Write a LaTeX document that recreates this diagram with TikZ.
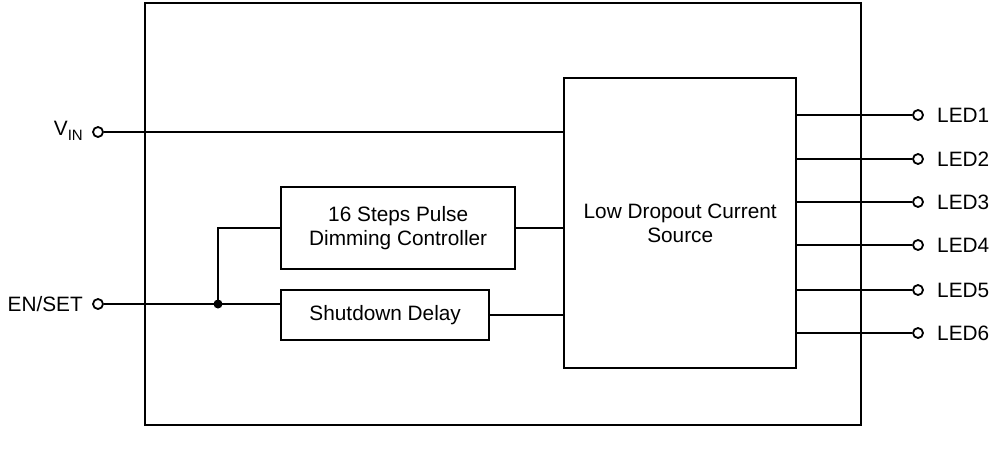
\documentclass[tikz,border=0pt]{standalone}
\usepackage{fontspec}
\setmainfont{Liberation Sans}
\begin{document}
\begin{tikzpicture}[x=1pt,y=-1pt,
  blk/.style={draw,line width=2.4pt,inner sep=0pt,align=center,font=\fontsize{20.8}{24.5}\selectfont},
  wire/.style={line width=1.6pt},
  pinc/.style={circle,draw,line width=1.8pt,fill=white,inner sep=0pt,minimum size=10pt},
  lbl/.style={inner sep=0pt,font=\fontsize{20.8}{24.5}\selectfont}]
\useasboundingbox (0,0) rectangle (992,450);
% outer package box
\draw[line width=2.8pt] (145,3) rectangle (861,425);
% blocks
\node[blk,anchor=north west,minimum width=232pt,minimum height=290pt] (ldo) at (563,77) {Low Dropout Current\\Source};
\node[blk,anchor=north west,minimum width=234pt,minimum height=82pt] (dim) at (280,186) {16 Steps Pulse\\Dimming Controller};
\node[blk,anchor=north west,minimum width=208pt,minimum height=50pt] (sd) at (280,289) {Shutdown Delay};
% pins
\node[pinc] (vinp) at (98,132) {};
\node[pinc] (enp) at (98,304) {};
\node[lbl,anchor=east] (vinl) at (83,131) {V\raisebox{-0.4ex}{\fontsize{15}{15}\selectfont IN}};
\node[lbl,anchor=east] (enl) at (83,304) {EN/SET};
\coordinate (j) at (218,304);
% wires
\draw[wire] (vinp) -- (vinp -| ldo.west);
\draw[wire] (enp) -- (enp -| sd.west);
\fill (j) circle (4.5pt);
\draw[wire] (j) |- (dim.west);
\draw[wire] (dim.east) -- (dim.east -| ldo.west);
\draw[wire] (sd.east) -- (sd.east -| ldo.west);
% LED outputs
\foreach \i/\y in {1/115,2/159,3/202,4/245,5/290,6/333}{
  \node[pinc] (led\i) at (918,\y) {};
  \node[lbl,anchor=west] (ledl\i) at (937,\y) {LED\i};
  \draw[wire] (led\i) -- (led\i -| ldo.east);
}
\end{tikzpicture}
\end{document}
